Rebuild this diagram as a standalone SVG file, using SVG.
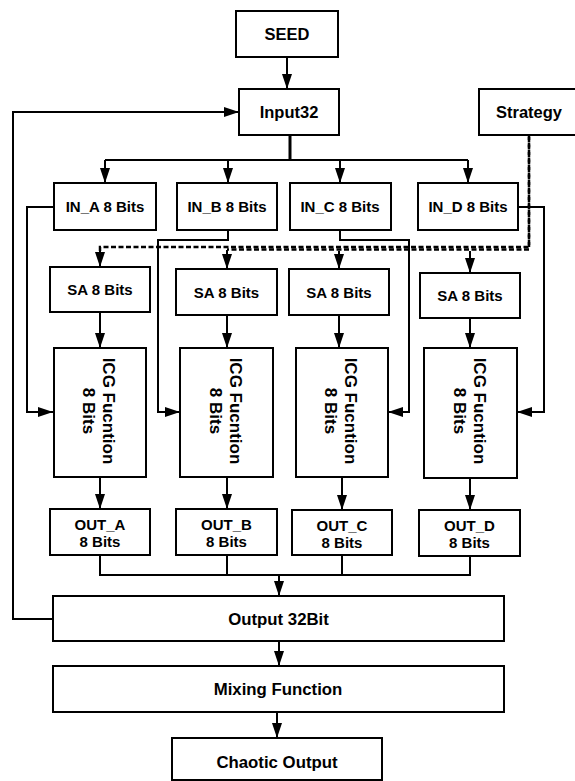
<svg xmlns="http://www.w3.org/2000/svg" width="575" height="781" viewBox="0 0 575 781">
<defs>
<marker id="ah" markerUnits="userSpaceOnUse" markerWidth="15" markerHeight="10" refX="15" refY="5" orient="auto">
<path d="M0,0 L15,5 L0,10 z" fill="#000"/>
</marker>
</defs>
<style>
.box{fill:#fff;stroke:#000;stroke-width:2}
.t{font-family:"Liberation Sans",Arial,sans-serif;font-weight:bold;fill:#000;text-anchor:middle}
.s15{font-size:15px}
.s16{font-size:16.5px}
.s17{font-size:16.8px}
.icg{font-size:17px}
.c{fill:none;stroke:#000;stroke-width:2}
.a{marker-end:url(#ah)}
.d{fill:none;stroke:#000;stroke-width:2.5;stroke-dasharray:5 2.5}
</style>
<rect width="575" height="781" fill="#fff"/>
<g id="connectors">
<path class="c a" d="M287,57 V89"/>
<path class="c a" d="M53,619 H13 V112 H239"/>
<path class="c" style="stroke-width:3" d="M290,135 V160"/>
<path class="c" d="M105,160 H468"/>
<path class="c a" d="M105,160 V183"/>
<path class="c a" d="M228,160 V183"/>
<path class="c a" d="M340,160 V183"/>
<path class="c a" d="M468,160 V183"/>
<path class="d" d="M529,135 V247 H100 V252"/>
<path class="d" d="M529,137 V249.5 H227"/>
<path class="c a" d="M100,250 V267"/>
<path class="c a" d="M227,250 V269"/>
<path class="c a" d="M339,251 V269"/>
<path class="c a" d="M470,251 V273"/>
<path class="c a" d="M54,207 H27 V412 H53"/>
<path class="c a" d="M228,230 V240 H158 V412 H180"/>
<path class="c a" d="M340,230 V240 H409 V412 H388"/>
<path class="c a" d="M518,207 H544 V412 H517"/>
<path class="c a" d="M100,312 V348"/>
<path class="c a" d="M227,315 V348"/>
<path class="c a" d="M339,315 V348"/>
<path class="c a" d="M470,318 V348"/>
<path class="c a" d="M100,477 V509"/>
<path class="c a" d="M227,477 V509"/>
<path class="c a" d="M342,477 V510"/>
<path class="c a" d="M470,478 V510"/>
<path class="c" d="M100,555 V575 H470 V556"/>
<path class="c" d="M227,555 V575"/>
<path class="c" d="M342,555 V575"/>
<path class="c a" d="M279,575 V596"/>
<path class="c a" d="M279,641 V666"/>
<path class="c a" d="M277,712 V738"/>
</g>
<g id="seed"><rect class="box" x="236" y="11" width="102" height="46"/><text class="t s16" x="287" y="40">SEED</text></g>
<g id="input32"><rect class="box" x="239" y="89" width="100" height="46"/><text class="t s16" x="289" y="118">Input32</text></g>
<g id="strategy"><rect class="box" x="479" y="89" width="100" height="46"/><text class="t s16" x="529" y="118">Strategy</text></g>
<g id="in_a"><rect class="box" x="54" y="183" width="102" height="47"/><text class="t s15" x="105" y="212">IN_A 8 Bits</text></g>
<g id="in_b"><rect class="box" x="177" y="183" width="100" height="47"/><text class="t s15" x="227" y="212">IN_B 8 Bits</text></g>
<g id="in_c"><rect class="box" x="290" y="183" width="101" height="47"/><text class="t s15" x="340" y="212">IN_C 8 Bits</text></g>
<g id="in_d"><rect class="box" x="418" y="183" width="100" height="47"/><text class="t s15" x="468" y="212">IN_D 8 Bits</text></g>
<g id="sa_a"><rect class="box" x="50" y="267" width="100" height="45"/><text class="t s15" x="100" y="295">SA 8 Bits</text></g>
<g id="sa_b"><rect class="box" x="176" y="269" width="101" height="46"/><text class="t s15" x="226.5" y="297.5">SA 8 Bits</text></g>
<g id="sa_c"><rect class="box" x="289" y="269" width="100" height="46"/><text class="t s15" x="339" y="297.5">SA 8 Bits</text></g>
<g id="sa_d"><rect class="box" x="420" y="273" width="100" height="45"/><text class="t s15" x="470" y="301">SA 8 Bits</text></g>
<g id="icg_a"><rect class="box" x="54" y="348" width="92" height="129"/><text class="t icg" transform="translate(100,411) rotate(90)"><tspan x="0" y="-3">ICG Fucntion</tspan><tspan x="0" y="17">8 Bits</tspan></text></g>
<g id="icg_b"><rect class="box" x="180" y="348" width="93" height="129"/><text class="t icg" transform="translate(226.5,411) rotate(90)"><tspan x="0" y="-3">ICG Fucntion</tspan><tspan x="0" y="17">8 Bits</tspan></text></g>
<g id="icg_c"><rect class="box" x="296" y="348" width="92" height="129"/><text class="t icg" transform="translate(342,411) rotate(90)"><tspan x="0" y="-3">ICG Fucntion</tspan><tspan x="0" y="17">8 Bits</tspan></text></g>
<g id="icg_d"><rect class="box" x="424" y="348" width="93" height="130"/><text class="t icg" transform="translate(470.5,411) rotate(90)"><tspan x="0" y="-3">ICG Fucntion</tspan><tspan x="0" y="17">8 Bits</tspan></text></g>
<g id="out_a"><rect class="box" x="50" y="509" width="100" height="46"/><text class="t s15"><tspan x="100" y="530">OUT_A</tspan><tspan x="100" y="547">8 Bits</tspan></text></g>
<g id="out_b"><rect class="box" x="176" y="509" width="101" height="46"/><text class="t s15"><tspan x="226.5" y="530">OUT_B</tspan><tspan x="226.5" y="547">8 Bits</tspan></text></g>
<g id="out_c"><rect class="box" x="292" y="510" width="100" height="45"/><text class="t s15"><tspan x="342" y="530.5">OUT_C</tspan><tspan x="342" y="547.5">8 Bits</tspan></text></g>
<g id="out_d"><rect class="box" x="419" y="510" width="101" height="46"/><text class="t s15"><tspan x="469.5" y="531">OUT_D</tspan><tspan x="469.5" y="548">8 Bits</tspan></text></g>
<g id="output32"><rect class="box" x="53" y="596" width="451" height="45"/><text class="t s17" x="278.5" y="624.5">Output 32Bit</text></g>
<g id="mixing"><rect class="box" x="53" y="666" width="451" height="46"/><text class="t s17" x="278" y="695">Mixing Function</text></g>
<g id="chaotic"><rect class="box" x="172" y="738" width="210" height="42"/><text class="t s17" x="277" y="768">Chaotic Output</text></g>
</svg>
